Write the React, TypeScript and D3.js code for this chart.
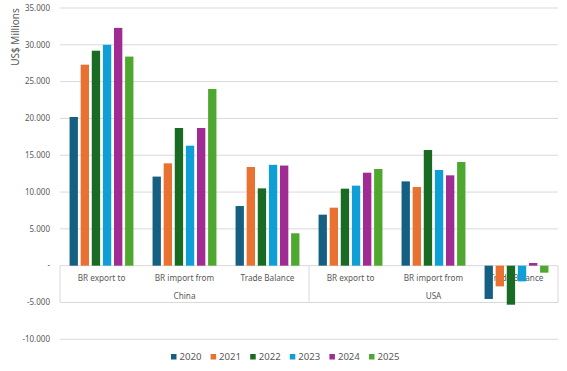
import React from "react";
import * as d3 from "d3";

const groups = ["China", "USA"];
const categories = ["BR export to", "BR import from", "Trade Balance"];
const years = ["2020", "2021", "2022", "2023", "2024", "2025"];
const colors = ["#156082", "#E97132", "#196B24", "#0F9ED5", "#A02B93", "#4EA72E"];

// values in US$ millions, per year, for the 6 category slots (China x3, USA x3)
const v2020 = [20200, 12100, 8100, 6930, 11450, -4520];
const v2021 = [27300, 13900, 13400, 7880, 10690, -2810];
const v2022 = [29200, 18700, 10500, 10460, 15710, -5300];
const v2023 = [30000, 16300, 13700, 10870, 13000, -2130];
const v2024 = [32300, 18700, 13600, 12630, 12270, 360];
const v2025 = [28400, 24000, 4400, 13130, 14080, -950];
const seriesValues = [v2020, v2021, v2022, v2023, v2024, v2025];
const yTicks = [35000, 30000, 25000, 20000, 15000, 10000, 5000, 0, -5000, -10000];

const W = 567;
const H = 371;
const left = 60;
const right = 558;
const font = "'Noto Sans', 'Liberation Sans', sans-serif";
const textColor = "#595959";

function fmt(v: number) {
  if (v === 0) return "-";
  const s = Math.abs(v).toString().replace(/\B(?=(\d{3})+(?!\d))/g, ".");
  return (v < 0 ? "-" : "") + s;
}

export default function App() {
  const slots = groups.flatMap((g) => categories.map((c) => `${g}|${c}`));
  const y = d3.scaleLinear().domain([-10000, 35000]).range([339.3, 8]);
  const x0 = d3.scaleBand<string>().domain(slots).range([left, right]).padding(0);
  const x1 = d3
    .scaleBand<string>()
    .domain(years)
    .range([0, x0.bandwidth()])
    .paddingInner(0.25)
    .paddingOuter(0.86);
  const gx = d3.scaleBand<string>().domain(groups).range([left, right]);
  const y0 = y(0);
  const yBox = y(-5000);

  return (
    <svg width={W} height={H} style={{ position: "absolute", left: 0, top: 0, background: "#fff" }}>
      {/* gridlines */}
      {yTicks.map((t) => (
        <g key={t}>
          {t !== 0 && (
            <line x1={left} x2={right} y1={y(t)} y2={y(t)} stroke="#d9d9d9" strokeWidth={1} />
          )}
          <text
            x={50}
            y={y(t)}
            dy="0.35em"
            textAnchor="end"
            fontFamily={font}
            fontSize={8}
            fill={textColor}
          >
            {fmt(t)}
          </text>
        </g>
      ))}
      {/* axis line & group separators */}
      <line x1={left} x2={right} y1={y0} y2={y0} stroke="#d9d9d9" strokeWidth={1} />
      {[left, gx("USA") as number, right].map((xv, i) => (
        <line key={i} x1={xv} x2={xv} y1={y0} y2={yBox} stroke="#d9d9d9" strokeWidth={1} />
      ))}
      {/* category labels */}
      {slots.map((s) => (
        <text
          key={s}
          x={(x0(s) as number) + x0.bandwidth() / 2}
          y={280.5}
          textAnchor="middle"
          fontFamily={font}
          fontSize={8.2}
          fill={textColor}
        >
          {s.split("|")[1]}
        </text>
      ))}
      {groups.map((g) => (
        <text
          key={g}
          x={(gx(g) as number) + gx.bandwidth() / 2}
          y={298.5}
          textAnchor="middle"
          fontFamily={font}
          fontSize={8.2}
          fill={textColor}
        >
          {g}
        </text>
      ))}
      {/* bars */}
      {seriesValues.map((vals, si) =>
        vals.map((v, ci) => {
          const xx = (x0(slots[ci]) as number) + (x1(years[si]) as number);
          const top = y(Math.max(0, v));
          const h = Math.abs(y(v) - y0);
          return (
            <rect
              key={`${si}-${ci}`}
              x={xx}
              y={top}
              width={x1.bandwidth()}
              height={h}
              fill={colors[si]}
            />
          );
        })
      )}
      {/* y axis title */}
      <text
        transform={`translate(19,37) rotate(-90)`}
        textAnchor="middle"
        fontFamily={font}
        fontSize={10}
        fill={textColor}
      >
        US$ Millions
      </text>
      {/* legend */}
      {years.map((yr, i) => {
        const lx = 171 + i * 39.6;
        return (
          <g key={yr}>
            <rect x={lx} y={354} width={5.5} height={5.5} fill={colors[i]} />
            <text x={lx + 8.5} y={360.3} fontFamily={font} fontSize={9.6} fill={textColor}>
              {yr}
            </text>
          </g>
        );
      })}
    </svg>
  );
}
